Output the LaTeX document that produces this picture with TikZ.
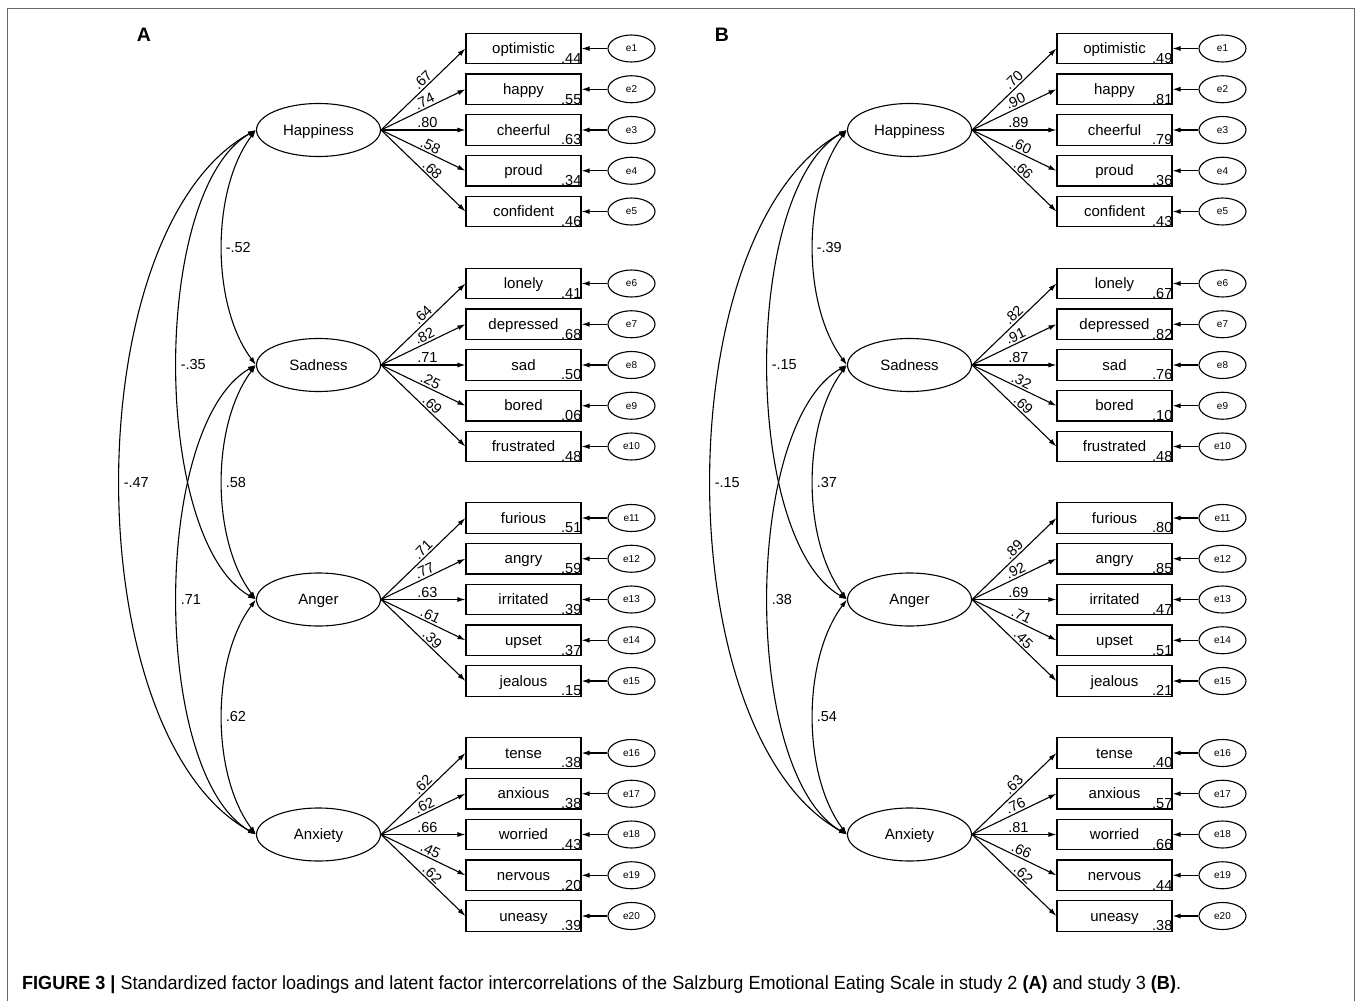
\documentclass[tikz,border=0pt]{standalone}
\usepackage{fontspec}
\setmainfont{Liberation Sans}
\newfontfamily\capfont[FakeStretch=0.95]{Liberation Sans}
\usetikzlibrary{shapes.geometric,arrows.meta}
\pgfdeclarelayer{edgelayer}
\pgfdeclarelayer{nodelayer}
\pgfsetlayers{edgelayer,nodelayer,main}
\tikzstyle{latent}=[ellipse, draw=black, fill=white, line width=1.1pt, minimum width=124pt, minimum height=53pt, inner sep=0pt, text height=11pt, text depth=1pt, font=\fontsize{15}{18}\selectfont]
\tikzstyle{observed}=[rectangle, draw=black, fill=white, line width=1.1pt, minimum width=115pt, minimum height=30.5pt, inner sep=0pt, text height=11pt, text depth=1pt, font=\fontsize{15}{18}\selectfont]
\tikzstyle{error}=[ellipse, draw=black, fill=white, line width=1.1pt, minimum width=47pt, minimum height=27pt, inner sep=0pt, font=\fontsize{10}{12}\selectfont]
\tikzstyle{rsq}=[anchor=base east, inner sep=0pt, yshift=1pt, font=\fontsize{14.5}{17}\selectfont]
\tikzstyle{regr}=[draw=black, line width=1.1pt, -{Latex[length=8pt,width=5pt]}]
\tikzstyle{cov}=[draw=black, line width=1.1pt, {Latex[length=8pt,width=5pt]}-{Latex[length=8pt,width=5pt]}]
\tikzstyle{loading}=[pos=0.55, sloped, above, inner sep=1.5pt, font=\fontsize{14.5}{17}\selectfont]
\tikzstyle{corr}=[midway, right, inner sep=3pt, font=\fontsize{14.5}{17}\selectfont]
\tikzstyle{panel}=[font=\fontsize{19.5}{23}\selectfont\bfseries]
\tikzstyle{caption}=[anchor=base west, inner sep=0pt, font=\capfont\fontsize{19}{22}\selectfont]
\tikzstyle{frame}=[draw=black!60, line width=1pt]

\begin{document}
\begin{tikzpicture}[x=1pt, y=-1pt]
				\useasboundingbox (0,0) rectangle (1358,1001);
				\def\itemlist{1/hap/48.5/optimistic/.67/.44/.70/.49, 2/hap/89.25/happy/.74/.55/.90/.81,
					3/hap/130/cheerful/.80/.63/.89/.79, 4/hap/170.75/proud/.58/.34/.60/.36,
					5/hap/211.5/confident/.68/.46/.66/.43,
					6/sad/283.5/lonely/.64/.41/.82/.67, 7/sad/324.25/depressed/.82/.68/.91/.82,
					8/sad/365/sad/.71/.50/.87/.76, 9/sad/405.75/bored/.25/.06/.32/.10,
					10/sad/446.5/frustrated/.69/.48/.69/.48,
					11/ang/518/furious/.71/.51/.89/.80, 12/ang/558.75/angry/.77/.59/.92/.85,
					13/ang/599.5/irritated/.63/.39/.69/.47, 14/ang/640.25/upset/.61/.37/.71/.51,
					15/ang/681/jealous/.39/.15/.45/.21,
					16/anx/753/tense/.62/.38/.63/.40, 17/anx/793.75/anxious/.62/.38/.76/.57,
					18/anx/834.5/worried/.66/.43/.81/.66, 19/anx/875.25/nervous/.45/.20/.66/.44,
					20/anx/916/uneasy/.62/.39/.62/.38}
				\begin{pgfonlayer}{nodelayer}
					\node [style=panel] (pa) at (144,35) {A};
					\node [style=panel] (pb) at (722,35) {B};
					\foreach \fac/\fname/\y in {hap/Happiness/130, sad/Sadness/365, ang/Anger/599.5, anx/Anxiety/834.5} {
						\node [style=latent] (a\fac) at (318.5,\y) {\fname};
						\node [style=latent] (b\fac) at (909.5,\y) {\fname};
					}
					\foreach \i/\fac/\y/\lbl/\la/\ra/\lb/\rb in \itemlist {
						\node [style=observed] (ax\i) at (523.5,\y) {\lbl};
						\node [style=rsq] (ar\i) at (ax\i.south east) {\ra};
						\node [style=error] (ae\i) at (631.5,\y) {e\i};
						\node [style=observed] (bx\i) at (1114.5,\y) {\lbl};
						\node [style=rsq] (br\i) at (bx\i.south east) {\rb};
						\node [style=error] (be\i) at (1222.5,\y) {e\i};
					}
					\node [style=caption] (cap) at (22,989) {\textbf{FIGURE 3 |} Standardized factor loadings and latent factor intercorrelations of the Salzburg Emotional Eating Scale in study 2 \textbf{(A)} and study 3 \textbf{(B)}.};
				\end{pgfonlayer}
				\begin{pgfonlayer}{edgelayer}
					\draw [style=frame] (7,1001) -- (7,8) -- (1354,8) -- (1354,1001);
					\foreach \i/\fac/\y/\lbl/\la/\ra/\lb/\rb in \itemlist {
						\draw [style=regr] (a\fac.east) -- node [style=loading] {\la} (ax\i.west);
						\draw [style=regr] (ae\i) -- (ax\i);
						\draw [style=regr] (b\fac.east) -- node [style=loading] {\lb} (bx\i.west);
						\draw [style=regr] (be\i) -- (bx\i);
					}
					% factor intercorrelations
					\foreach \p/\hs/\ha/\hx/\sa/\sx/\ax in {a/-.52/-.35/-.47/.58/.71/.62, b/-.39/-.15/-.15/.37/.38/.54} {
						\draw [style=cov] (\p hap.west) .. controls +(-45,60) and +(-45,-60) .. (\p sad.west) node [style=corr] {\hs};
						\draw [style=cov] (\p sad.west) .. controls +(-45,60) and +(-45,-60) .. (\p ang.west) node [style=corr] {\sa};
						\draw [style=cov] (\p ang.west) .. controls +(-45,60) and +(-45,-60) .. (\p anx.west) node [style=corr] {\ax};
						\draw [style=cov] (\p hap.west) .. controls +(-105,60) and +(-105,-60) .. (\p ang.west) node [style=corr] {\ha};
						\draw [style=cov] (\p sad.west) .. controls +(-105,60) and +(-105,-60) .. (\p anx.west) node [style=corr] {\sx};
						\draw [style=cov] (\p hap.west) .. controls +(-181,100) and +(-181,-100) .. (\p anx.west) node [style=corr] {\hx};
					}
				\end{pgfonlayer}
			\end{tikzpicture}
\end{document}
